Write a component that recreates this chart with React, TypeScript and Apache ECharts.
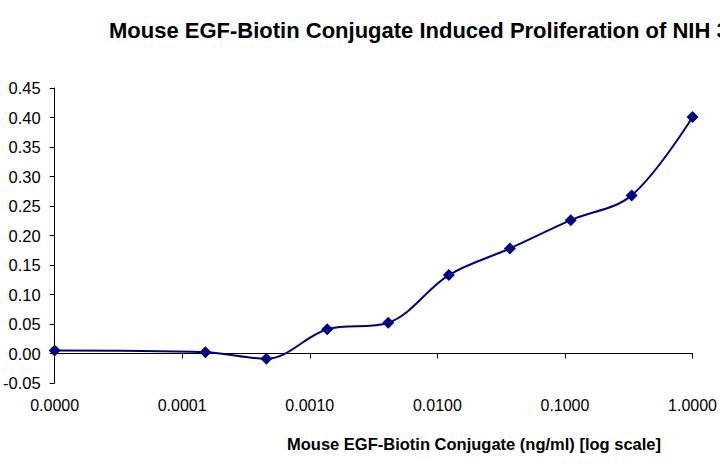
import React, { useEffect, useRef } from "react";
import * as echarts from "echarts";

const titleText = "Mouse EGF-Biotin Conjugate Induced Proliferation of NIH 3T3 Cells";
const xAxisTitle = "Mouse EGF-Biotin Conjugate (ng/ml) [log scale]";
const concentrations = [0.00001, 0.000152, 0.000457, 0.00137, 0.00412, 0.0123, 0.037, 0.111, 0.333, 1.0];
const responses = [0.005, 0.002, -0.009, 0.041, 0.052, 0.133, 0.178, 0.226, 0.268, 0.401];

export default function App() {
  const ref = useRef<HTMLDivElement>(null);
  useEffect(() => {
    if (!ref.current) return;
    const chart = echarts.init(ref.current, null, { renderer: "svg" });
    const font = "'Liberation Sans', Arial, sans-serif";
    chart.setOption({
      animation: false,
      backgroundColor: "#ffffff",
      grid: { left: 47, right: 24, top: 88, bottom: 92, containLabel: false },
      xAxis: {
        type: "log",
        logBase: 10,
        min: 0.00001,
        max: 1,
        axisLine: { show: true, lineStyle: { color: "#000", width: 1 } },
        axisTick: { show: true, length: 5, lineStyle: { color: "#000" } },
        minorTick: { show: false },
        splitLine: { show: false },
        axisLabel: {
          margin: 14,
          color: "#000",
          fontFamily: font,
          fontSize: 16,
          formatter: (v: number) => v.toFixed(4),
        },
      },
      yAxis: {
        type: "value",
        min: -0.05,
        max: 0.45,
        interval: 0.05,
        axisLine: { show: true, lineStyle: { color: "#000", width: 1 } },
        axisTick: { show: true, length: 5, lineStyle: { color: "#000" } },
        splitLine: { show: false },
        axisLabel: {
          margin: 14,
          color: "#000",
          fontFamily: font,
          fontSize: 16.5,
          formatter: (v: number) => v.toFixed(2),
        },
      },
      graphic: [
        {
          type: "text",
          x: 109,
          y: 30,
          style: {
            text: titleText,
            font: `bold 22px ${font}`,
            fill: "#000",
            verticalAlign: "middle",
          },
        },
        {
          type: "text",
          x: 287,
          y: 444,
          style: {
            text: xAxisTitle,
            font: `bold 16.5px ${font}`,
            fill: "#000",
            verticalAlign: "middle",
          },
        },
      ],
      series: [
        {
          type: "line",
          data: concentrations.map((c, i) => [c, responses[i]]),
          smooth: 0.35,
          symbol: "diamond",
          symbolSize: 12,
          lineStyle: { color: "#000080", width: 2 },
          itemStyle: { color: "#000080" },
        },
      ],
    });
    return () => chart.dispose();
  }, []);
  return (
    <div
      ref={ref}
      style={{ position: "absolute", left: 0, top: 0, width: 720, height: 475, background: "#fff" }}
    />
  );
}
